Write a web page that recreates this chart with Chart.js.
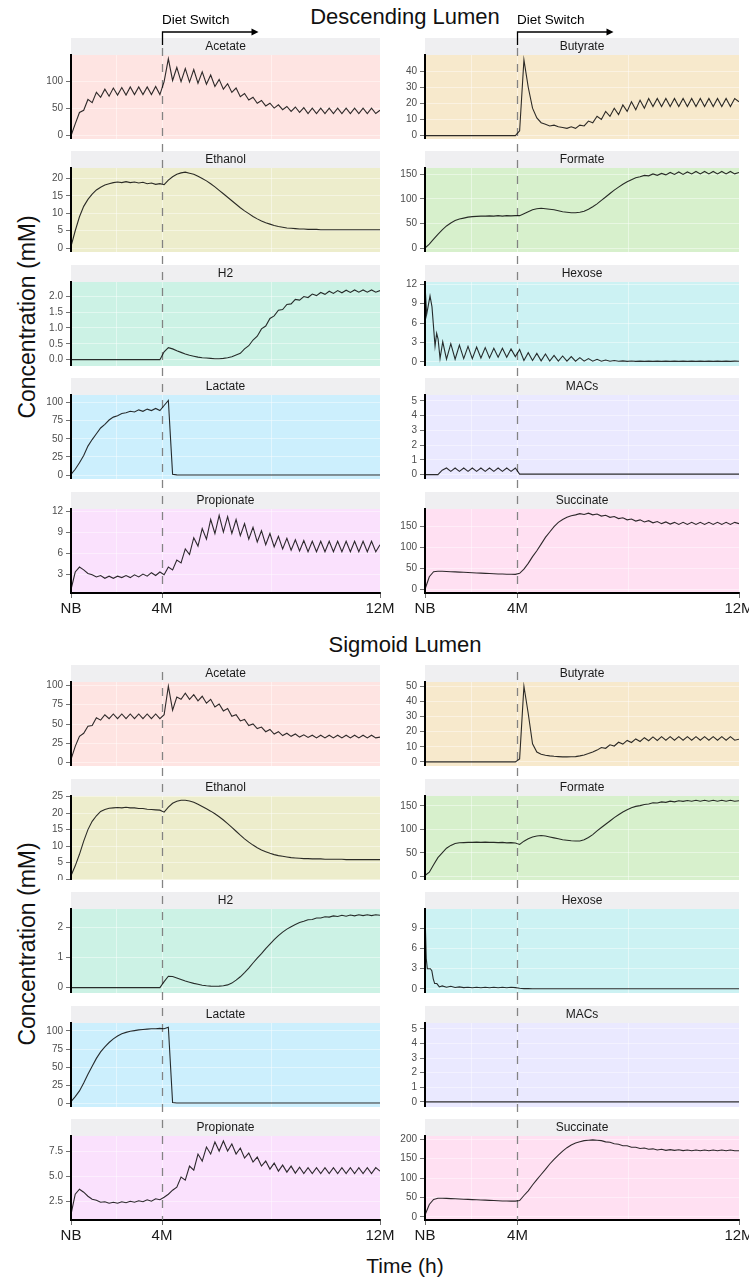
<!DOCTYPE html>
<html>
<head>
<meta charset="utf-8">
<script src="https://cdn.jsdelivr.net/npm/chart.js@4.4.1/dist/chart.umd.min.js"></script>
<style>
    html, body { margin: 0; padding: 0; background: #fff; }
    body { position: relative; width: 749px; height: 1281px; overflow: hidden; font-family: "Liberation Sans", Arial, Helvetica, sans-serif; color: #111; }
    canvas { position: absolute; }
    .title { position: absolute; transform: translateX(-50%); font-size: 22px; line-height: 1; white-space: nowrap; }
    .xlab { position: absolute; transform: translateX(-50%); font-size: 21px; line-height: 1; white-space: nowrap; }
    .ylab { position: absolute; transform: translate(-50%, -50%) rotate(-90deg); font-size: 23px; line-height: 1; white-space: nowrap; }
</style>
</head>
<body>
<div class="title" style="left:405px; top:6px;">Descending Lumen</div>
<div class="title" style="left:405px; top:634px;">Sigmoid Lumen</div>
<div class="ylab" style="left:27px; top:317px;">Concentration (mM)</div>
<div class="ylab" style="left:27px; top:944px;">Concentration (mM)</div>
<div class="xlab" style="left:405px; top:1255px;">Time (h)</div>

<script>
/*** ======== Data ======== ***/
const hours = [
    0, 120, 240, 360, 480, 600, 720, 840, 960, 1080,
    1200, 1320, 1440, 1560, 1680, 1800, 1920, 2040, 2160, 2280,
    2400, 2520, 2640, 2760, 2880, 3000, 3120, 3240, 3360, 3480,
    3600, 3720, 3840, 3960, 4080, 4200, 4320, 4440, 4560, 4680,
    4800, 4920, 5040, 5160, 5280, 5400, 5520, 5640, 5760, 5880,
    6000, 6120, 6240, 6360, 6480, 6600, 6720, 6840, 6960, 7080,
    7200, 7320, 7440, 7560, 7680, 7800, 7920, 8040, 8160, 8280,
    8400, 8520, 8640, 8760
];
const xTickHours = [0, 2580, 8760];
const xTickLabels = ['NB', '4M', '12M'];
const dietSwitchHours = 2580;
const metabolites = ['Acetate', 'Butyrate', 'Ethanol', 'Formate', 'H2', 'Hexose', 'Lactate', 'MACs', 'Propionate', 'Succinate'];
const panelColours = ['#F8766D', '#D89000', '#A3A500', '#39B600', '#00BF7D', '#00BFC4', '#00B0F6', '#9590FF', '#E76BF3', '#FF62BC'];

// Descending lumen
const descAcetate = [
    0, 22, 43, 47, 67, 61, 80, 71, 86, 73,
    88, 75, 89, 75, 90, 76, 90, 76, 90, 76,
    91, 76, 100, 142, 102, 126, 100, 124, 99, 122,
    97, 118, 95, 112, 91, 104, 86, 96, 80, 88,
    72, 78, 66, 71, 60, 65, 55, 60, 51, 57,
    48, 54, 45, 53, 43, 52, 41, 51, 41, 51,
    41, 51, 41, 51, 41, 51, 41, 51, 41, 51,
    41, 51, 41, 47
];
const descButyrate = [
    0, 0, 0, 0, 0, 0, 0, 0, 0, 0,
    0, 0, 0, 0, 0, 0, 0, 0, 0, 0,
    0, 0, 3, 47, 30, 17, 11, 8, 7, 6,
    6.5, 5.5, 5, 4.5, 5.5, 4.5, 6.5, 6, 9, 8,
    12, 10, 15, 12, 17, 13, 19, 15, 21, 16,
    22, 17, 23, 18, 23, 18, 23, 18, 23, 18,
    23, 18, 23, 18, 23, 18, 23, 18, 23, 18,
    23, 18, 23, 21
];
const descEthanol = [
    0.5, 5, 9, 12, 14, 15.5, 16.7, 17.5, 18.1, 18.5,
    18.8, 19, 18.8, 19.1, 18.8, 19, 18.7, 18.9, 18.5, 18.7,
    18.3, 18.5, 18.2, 19.5, 20.5, 21.2, 21.6, 21.8, 21.5, 21.2,
    20.6, 20, 19.3, 18.5, 17.6, 16.6, 15.6, 14.6, 13.6, 12.6,
    11.6, 10.7, 9.9, 9.1, 8.4, 7.8, 7.3, 6.9, 6.5, 6.2,
    6, 5.8, 5.7, 5.6, 5.5, 5.5, 5.4, 5.4, 5.4, 5.3,
    5.3, 5.3, 5.3, 5.3, 5.3, 5.3, 5.3, 5.3, 5.3, 5.3,
    5.3, 5.3, 5.3, 5.3
];
const descFormate = [
    0, 8, 18, 28, 37, 45, 51, 56, 59, 61,
    63, 64, 64.5, 65, 65, 65.5, 65, 66, 65, 66,
    65.5, 66, 66, 70, 74, 78, 80, 81, 80, 79,
    78, 76, 74, 73, 72, 72, 73, 75, 79, 84,
    90, 97, 104, 111, 118, 124, 130, 135, 139, 143,
    145, 148, 147, 151, 148, 152, 149, 154, 150, 155,
    150, 155, 151, 156, 151, 156, 151, 156, 151, 156,
    151, 156, 151, 154
];
const descH2 = [
    0, 0, 0, 0, 0, 0, 0, 0, 0, 0,
    0, 0, 0, 0, 0, 0, 0, 0, 0, 0,
    0, 0, 0.25, 0.38, 0.34, 0.28, 0.23, 0.18, 0.14, 0.11,
    0.08, 0.06, 0.05, 0.04, 0.03, 0.03, 0.04, 0.06, 0.09, 0.15,
    0.2, 0.34, 0.44, 0.62, 0.74, 0.97, 1.06, 1.3, 1.38, 1.56,
    1.58, 1.74, 1.76, 1.9, 1.88, 1.99, 1.96, 2.07, 2.02, 2.12,
    2.06, 2.16, 2.09, 2.18, 2.11, 2.19, 2.12, 2.2, 2.13, 2.2,
    2.13, 2.2, 2.13, 2.18
];
const descHexoseHours = [0, 45, 85, 140, 195, 280, 325, 365, 420, 495].concat(hours.slice(5));
const descHexose = [
    12, 7.3, 8.5, 10.2, 8.5, 2.4, 4.4, 3.5, 0.5, 3.1,
    0.4, 2.8, 0.4, 2.6, 0.5,
    2.4, 0.5, 2.3, 0.6, 2.2, 0.6, 2.1, 0.7, 2.1, 0.7,
    2.0, 0.8, 1.9, 0.2, 1.4, 0.2, 1.3, 0.15, 1.2, 0.12,
    1.0, 0.12, 0.9, 0.1, 0.8, 0.1, 0.65, 0.1, 0.5, 0.1,
    0.38, 0.08, 0.28, 0.08, 0.2, 0.08, 0.14, 0.07, 0.12, 0.07,
    0.11, 0.07, 0.1, 0.07, 0.1, 0.07, 0.1, 0.07, 0.1, 0.07,
    0.1, 0.07, 0.1, 0.07, 0.1, 0.07, 0.1, 0.07, 0.1, 0.07,
    0.1, 0.07, 0.1, 0.08
];
const descLactate = [
    1, 8, 17, 27, 40, 49, 57, 65, 70, 76,
    80, 82, 85, 86, 88, 87, 90, 88, 91, 89,
    92, 89, 96, 103, 1, 0.3, 0.2, 0.2, 0.2, 0.2,
    0.2, 0.2, 0.2, 0.2, 0.2, 0.2, 0.2, 0.2, 0.2, 0.2,
    0.2, 0.2, 0.2, 0.2, 0.2, 0.2, 0.2, 0.2, 0.2, 0.2,
    0.2, 0.2, 0.2, 0.2, 0.2, 0.2, 0.2, 0.2, 0.2, 0.2,
    0.2, 0.2, 0.2, 0.2, 0.2, 0.2, 0.2, 0.2, 0.2, 0.2,
    0.2, 0.2, 0.2, 0.2
];
const descMACs = [
    0, 0, 0, 0, 0.3, 0.45, 0.22, 0.45, 0.22, 0.45,
    0.22, 0.45, 0.22, 0.45, 0.22, 0.45, 0.22, 0.45, 0.22, 0.45,
    0.22, 0.45, 0.03, 0.03, 0.03, 0.03, 0.03, 0.03, 0.03, 0.03,
    0.03, 0.03, 0.03, 0.03, 0.03, 0.03, 0.03, 0.03, 0.03, 0.03,
    0.03, 0.03, 0.03, 0.03, 0.03, 0.03, 0.03, 0.03, 0.03, 0.03,
    0.03, 0.03, 0.03, 0.03, 0.03, 0.03, 0.03, 0.03, 0.03, 0.03,
    0.03, 0.03, 0.03, 0.03, 0.03, 0.03, 0.03, 0.03, 0.03, 0.03,
    0.03, 0.03, 0.03, 0.03
];
const descPropionate = [
    0.8, 3.3, 4.0, 3.6, 3.1, 2.9, 2.6, 2.8, 2.4, 2.7,
    2.4, 2.7, 2.5, 2.8, 2.5, 2.9, 2.6, 3.0, 2.7, 3.2,
    2.8, 3.3, 2.9, 4.0, 3.6, 5.0, 4.6, 6.6, 5.8, 8.2,
    7.0, 9.5, 8.0, 10.8, 8.8, 11.4, 9.0, 11.2, 8.8, 10.8,
    8.5, 10.2, 8.0, 9.7, 7.6, 9.2, 7.2, 8.8, 6.9, 8.4,
    6.6, 8.1, 6.4, 7.9, 6.3, 7.8, 6.2, 7.7, 6.2, 7.7,
    6.2, 7.7, 6.2, 7.7, 6.2, 7.7, 6.2, 7.7, 6.2, 7.7,
    6.2, 7.7, 6.2, 7.2
];
const descSuccinate = [
    0, 30, 42, 43, 43, 42.5, 42, 41.5, 41, 40.5,
    40, 39.5, 39, 38.5, 38, 37.5, 37, 36.5, 36.5, 36,
    36, 35.5, 38, 48, 62, 78, 92, 108, 124, 137,
    150, 160, 167, 172, 176, 178, 181, 179, 182, 178,
    180, 175, 177, 172, 174, 169, 171, 166, 168, 163,
    166, 161, 164, 159, 162, 157, 161, 156, 160, 155,
    160, 155, 160, 155, 160, 155, 160, 155, 160, 155,
    160, 155, 160, 157
];
const descYTicks = [
    ['0', '50', '100'], ['0', '10', '20', '30', '40'], ['0', '5', '10', '15', '20'], ['0', '50', '100', '150'],
    ['0.0', '0.5', '1.0', '1.5', '2.0'], ['0', '3', '6', '9', '12'], ['0', '25', '50', '75', '100'],
    ['0', '1', '2', '3', '4', '5'], ['3', '6', '9', '12'], ['0', '50', '100', '150']
];
const descYRanges = [
    [-6, 149], [-2.1, 50], [-1.1, 23], [-8, 163], [-0.2, 2.45],
    [-0.65, 12.35], [-5.4, 110.5], [-0.3, 5.4], [0.3, 12.3], [-9, 192]
];

// Sigmoid lumen
const sigAcetate = [
    4, 21, 34, 38, 47, 48, 58, 55, 62, 57,
    63, 57, 63, 57, 63, 57, 63, 57, 63, 57,
    63, 57, 62, 99, 68, 85, 82, 90, 82, 88,
    80, 86, 77, 82, 72, 76, 67, 70, 60, 62,
    54, 56, 48, 50, 44, 46, 40, 43, 37, 40,
    35, 38, 34, 37, 33, 36, 32.5, 35.5, 32, 35.5,
    32, 35.5, 32, 35.5, 32, 35.5, 32, 35.5, 32, 35.5,
    32, 35.5, 32, 33
];
const sigButyrate = [
    0, 0, 0, 0, 0, 0, 0, 0, 0, 0,
    0, 0, 0, 0, 0, 0, 0, 0, 0, 0,
    0, 0, 2, 50, 32, 12, 6.5, 5, 4.4, 4,
    3.7, 3.5, 3.3, 3.3, 3.4, 3.5, 4, 4.6, 5.5, 6.5,
    7.8, 9.5, 9, 11.3, 10.5, 13, 11.8, 14.2, 12.8, 15.2,
    13.5, 16, 14, 16.5, 14.2, 16.7, 14.3, 16.7, 14.3, 16.7,
    14.3, 16.7, 14.3, 16.7, 14.3, 16.7, 14.3, 16.7, 14.3, 16.7,
    14.3, 16.7, 14.3, 15
];
const sigEthanol = [
    1, 4, 7.5, 11.5, 15, 17.5, 19.2, 20.5, 21.1, 21.5,
    21.6, 21.7, 21.6, 21.8, 21.6, 21.6, 21.4, 21.4, 21.2, 21.1,
    21.0, 20.9, 20.3, 21.8, 23.0, 23.6, 23.9, 23.9, 23.7, 23.3,
    22.7, 22.0, 21.3, 20.6, 19.8, 18.9, 17.9, 16.8, 15.7, 14.5,
    13.3, 12.2, 11.2, 10.3, 9.5, 8.8, 8.3, 7.8, 7.4, 7.1,
    6.9, 6.7, 6.5, 6.4, 6.3, 6.2, 6.2, 6.1, 6.1, 6.1,
    6.0, 6.0, 6.0, 6.0, 6.0, 5.9, 5.9, 5.9, 5.9, 5.9,
    5.9, 5.9, 5.9, 5.9
];
const sigFormate = [
    2, 9, 25, 40, 50, 60, 66, 70, 71.5, 72,
    72.5, 72.5, 73, 72.5, 73, 72.5, 72.5, 72, 72.5, 71.5,
    72, 71, 68, 75, 80, 84, 86, 87, 86, 84,
    82, 80, 78, 77, 76, 75.5, 75.5, 78, 83, 89,
    97, 104, 111, 118, 125, 131, 137, 142, 146, 149,
    150.5, 153, 154, 156.5, 156, 158.5, 157.5, 160, 158.5, 161,
    159.5, 161.5, 160, 162, 160, 162, 160, 162, 160, 162,
    160, 162, 160, 161
];
const sigH2 = [
    0, 0, 0, 0, 0, 0, 0, 0, 0, 0,
    0, 0, 0, 0, 0, 0, 0, 0, 0, 0,
    0, 0, 0.2, 0.38, 0.37, 0.32, 0.27, 0.22, 0.18, 0.14,
    0.11, 0.08, 0.06, 0.05, 0.045, 0.05, 0.06, 0.09, 0.15, 0.25,
    0.36, 0.5, 0.65, 0.82, 0.98, 1.13, 1.3, 1.45, 1.6, 1.73,
    1.85, 1.95, 2.03, 2.1, 2.17, 2.21, 2.26, 2.27, 2.32, 2.32,
    2.36, 2.35, 2.39, 2.37, 2.41, 2.38, 2.42, 2.39, 2.43, 2.4,
    2.43, 2.4, 2.43, 2.41
];
const sigHexoseHours = [0, 35, 65, 150, 190, 230, 270, 330, 400, 480].concat(hours.slice(5));
const sigHexose = [
    11.3, 4.5, 3.0, 3.0, 2.7, 1.5, 0.8, 0.8, 0.3, 0.45,
    0.25, 0.4, 0.22, 0.3, 0.2,
    0.25, 0.18, 0.25, 0.18, 0.25, 0.18, 0.25, 0.18, 0.25, 0.18,
    0.25, 0.2, 0.1, 0.05, 0.05, 0.04, 0.04, 0.04, 0.04, 0.04,
    0.04, 0.04, 0.04, 0.04, 0.04, 0.04, 0.04, 0.04, 0.04, 0.04,
    0.04, 0.04, 0.04, 0.04, 0.04, 0.04, 0.04, 0.04, 0.04, 0.04,
    0.04, 0.04, 0.04, 0.04, 0.04, 0.04, 0.04, 0.04, 0.04, 0.04,
    0.04, 0.04, 0.04, 0.04, 0.04, 0.04, 0.04, 0.04, 0.04, 0.04,
    0.04, 0.04, 0.04, 0.04
];
const sigLactate = [
    2, 9, 17, 28, 40, 51, 62, 71, 78, 84,
    89, 93, 96, 98, 99.5, 100.5, 101.5, 102, 102.5, 103,
    103, 103.5, 103, 105, 1, 0.2, 0.2, 0.2, 0.2, 0.2,
    0.2, 0.2, 0.2, 0.2, 0.2, 0.2, 0.2, 0.2, 0.2, 0.2,
    0.2, 0.2, 0.2, 0.2, 0.2, 0.2, 0.2, 0.2, 0.2, 0.2,
    0.2, 0.2, 0.2, 0.2, 0.2, 0.2, 0.2, 0.2, 0.2, 0.2,
    0.2, 0.2, 0.2, 0.2, 0.2, 0.2, 0.2, 0.2, 0.2, 0.2,
    0.2, 0.2, 0.2, 0.2
];
const sigMACs = [
    0, 0, 0, 0, 0, 0, 0, 0, 0, 0,
    0, 0, 0, 0, 0, 0, 0, 0, 0, 0,
    0, 0, 0, 0, 0, 0, 0, 0, 0, 0,
    0, 0, 0, 0, 0, 0, 0, 0, 0, 0,
    0, 0, 0, 0, 0, 0, 0, 0, 0, 0,
    0, 0, 0, 0, 0, 0, 0, 0, 0, 0,
    0, 0, 0, 0, 0, 0, 0, 0, 0, 0,
    0, 0, 0, 0
];
const sigPropionate = [
    1.2, 3.2, 3.7, 3.4, 3.0, 2.7, 2.6, 2.4, 2.45, 2.3,
    2.4, 2.3, 2.45, 2.35, 2.5, 2.4, 2.55, 2.45, 2.65, 2.5,
    2.75, 2.65, 2.9, 3.2, 3.6, 3.9, 4.9, 4.6, 6.0, 5.6,
    7.2, 6.5, 7.9, 7.2, 8.4, 7.5, 8.5, 7.5, 8.2, 7.2,
    7.8, 6.8, 7.3, 6.4, 6.9, 6.0, 6.5, 5.7, 6.3, 5.5,
    6.1, 5.4, 6.0, 5.3, 5.9, 5.25, 5.85, 5.25, 5.85, 5.25,
    5.85, 5.25, 5.85, 5.25, 5.85, 5.25, 5.85, 5.25, 5.85, 5.25,
    5.85, 5.25, 5.85, 5.5
];
const sigSuccinate = [
    5, 32, 45, 48, 48, 47.5, 47, 46.5, 46, 45.5,
    45, 44.5, 44, 43.5, 43, 42.5, 42, 41.5, 41, 41,
    40.5, 40.5, 42, 55, 67, 82, 96, 109, 122, 136,
    148, 159, 169, 178, 185, 190, 193, 196, 197, 198,
    197, 196, 193, 192, 188, 187, 183, 183, 179, 179,
    176, 177, 174, 175, 172, 174, 171, 173, 171, 172.5,
    170.5, 172, 170, 172, 170, 172, 170, 172, 170, 172,
    170, 172, 170, 170
];
const sigYTicks = [
    ['0', '25', '50', '75', '100'], ['0', '10', '20', '30', '40', '50'], ['0', '5', '10', '15', '20', '25'],
    ['0', '50', '100', '150'], ['0', '1', '2'], ['0', '3', '6', '9'], ['0', '25', '50', '75', '100'],
    ['0', '1', '2', '3', '4', '5'], ['2.5', '5.0', '7.5'], ['0', '50', '100', '150', '200']
];
const sigYRanges = [
    [-4.5, 104.5], [-2.7, 52.8], [-0.3, 25.2], [-7.5, 171], [-0.18, 2.62],
    [-0.6, 11.85], [-5.3, 111], [-0.35, 5.4], [0.63, 9.0], [-8, 208]
];

/*** ======== Layout ======== ***/
const FONT = '"Liberation Sans", Arial, Helvetica, sans-serif';
const STRIP_H = 17;
const PLOT_H = 84;
const Y_AXIS_W = 45;
const X_AXIS_H = 30;
const ARROW_TOP = 32, ARROW_BOTTOM = 45, ARROW_LEN = 96, ARROW_TEXT_Y = 24;

// minor vertical grid lines sit halfway between the labelled ticks
const xGridHours = [];
xTickHours.forEach((h, i) => {
    xGridHours.push(h);
    if (i < xTickHours.length - 1) xGridHours.push((h + xTickHours[i + 1]) / 2);
});

const sections = [
    {
        canvasTop: 0,
        stripTops: [38, 151, 265, 378, 492],
        xValues: [hours, hours, hours, hours, hours, descHexoseHours, hours, hours, hours, hours],
        series: [descAcetate, descButyrate, descEthanol, descFormate, descH2, descHexose, descLactate, descMACs, descPropionate, descSuccinate],
        yTicks: descYTicks,
        yRanges: descYRanges,
        arrow: true
    },
    {
        canvasTop: 655,
        stripTops: [665, 779, 892, 1006, 1119],
        xValues: [hours, hours, hours, hours, hours, sigHexoseHours, hours, hours, hours, hours],
        series: [sigAcetate, sigButyrate, sigEthanol, sigFormate, sigH2, sigHexose, sigLactate, sigMACs, sigPropionate, sigSuccinate],
        yTicks: sigYTicks,
        yRanges: sigYRanges,
        arrow: false
    }
];

function withAlpha(hex, a) {
    const r = parseInt(hex.slice(1, 3), 16), g = parseInt(hex.slice(3, 5), 16), b = parseInt(hex.slice(5, 7), 16);
    return `rgba(${r},${g},${b},${a})`;
}

/*** ======== Panel decorations: background, strip, diet switch ======== ***/
const panelDecor = {
    id: 'panelDecor',
    beforeDraw(chart, args, opts) {
        const ctx = chart.ctx;
        const a = chart.chartArea;
        ctx.save();
        ctx.fillStyle = opts.fill;
        ctx.fillRect(a.left, a.top, a.right - a.left, a.bottom - a.top);
        ctx.fillStyle = '#efeff1';
        ctx.fillRect(a.left, a.top - STRIP_H, a.right - a.left, STRIP_H);
        ctx.fillStyle = '#1a1a1a';
        ctx.font = '12px ' + FONT;
        ctx.textAlign = 'center';
        ctx.textBaseline = 'middle';
        ctx.fillText(opts.name, (a.left + a.right) / 2, a.top - STRIP_H / 2 + 0.5);
        ctx.restore();
    },
    beforeDatasetsDraw(chart, args, opts) {
        const ctx = chart.ctx;
        const x = Math.round(chart.scales.x.getPixelForValue(dietSwitchHours)) + 0.5;
        ctx.save();
        ctx.strokeStyle = 'rgba(125,125,125,0.95)';
        ctx.lineWidth = 1.3;
        ctx.setLineDash([8, 8]);
        ctx.lineDashOffset = opts.pageTop + opts.dashFrom;
        ctx.beginPath();
        ctx.moveTo(x, opts.dashFrom);
        ctx.lineTo(x, chart.chartArea.bottom);
        ctx.stroke();
        ctx.restore();
    },
    afterDraw(chart, args, opts) {
        if (!opts.arrow) return;
        const ctx = chart.ctx;
        const x = Math.round(chart.scales.x.getPixelForValue(dietSwitchHours)) + 0.5;
        const top = ARROW_TOP - opts.pageTop;
        ctx.save();
        ctx.strokeStyle = '#000';
        ctx.fillStyle = '#000';
        ctx.lineWidth = 1.3;
        ctx.beginPath();
        ctx.moveTo(x, ARROW_BOTTOM - opts.pageTop);
        ctx.lineTo(x, top);
        ctx.lineTo(x + ARROW_LEN - 5, top);
        ctx.stroke();
        ctx.beginPath();
        ctx.moveTo(x + ARROW_LEN, top);
        ctx.lineTo(x + ARROW_LEN - 7, top - 3.5);
        ctx.lineTo(x + ARROW_LEN - 7, top + 3.5);
        ctx.closePath();
        ctx.fill();
        ctx.font = '13.5px ' + FONT;
        ctx.textAlign = 'left';
        ctx.textBaseline = 'alphabetic';
        ctx.fillText('Diet Switch', x - 0.5, ARROW_TEXT_Y - opts.pageTop);
        ctx.restore();
    }
};

function buildPanel(section, k) {
    const col = k % 2;
    const row = Math.floor(k / 2);
    const isBottom = row === section.stripTops.length - 1;
    const plotLeft = col === 0 ? 71 : 425;
    const plotRight = col === 0 ? 380 : 739;
    const stripTop = section.stripTops[row];
    const plotTop = stripTop + STRIP_H;
    const plotBottom = plotTop + PLOT_H;
    const canvasTop = row === 0 ? section.canvasTop : section.stripTops[row - 1] + STRIP_H + PLOT_H;
    const canvasLeft = plotLeft - Y_AXIS_W;
    const canvasWidth = col === 0 ? 380 : 375;
    const canvasHeight = plotBottom - canvasTop + (isBottom ? X_AXIS_H : 0);

    const canvas = document.createElement('canvas');
    canvas.width = canvasWidth;
    canvas.height = canvasHeight;
    canvas.style.left = canvasLeft + 'px';
    canvas.style.top = canvasTop + 'px';
    canvas.style.width = canvasWidth + 'px';
    canvas.style.height = canvasHeight + 'px';
    document.body.appendChild(canvas);

    const xs = section.xValues[k];
    const ys = section.series[k];
    const tickText = section.yTicks[k];
    const range = section.yRanges[k];

    let dashFrom = 0;
    if (row === 0) dashFrom = (section.arrow ? ARROW_BOTTOM : stripTop) - canvasTop;

    new Chart(canvas, {
        type: 'line',
        data: {
            datasets: [{
                data: xs.map((x, i) => ({ x: x, y: ys[i] })),
                borderColor: 'rgba(0,0,0,0.82)',
                borderWidth: 1.1,
                pointRadius: 0,
                tension: 0,
                fill: false
            }]
        },
        options: {
            responsive: false,
            animation: false,
            events: [],
            layout: {
                autoPadding: false,
                padding: { top: plotTop - canvasTop, right: canvasWidth - (plotRight - canvasLeft), bottom: 0, left: 0 }
            },
            plugins: {
                legend: { display: false },
                tooltip: { enabled: false },
                panelDecor: {
                    fill: withAlpha(panelColours[k], 0.2),
                    name: metabolites[k],
                    pageTop: canvasTop,
                    dashFrom: dashFrom,
                    arrow: section.arrow && row === 0
                }
            },
            scales: {
                x: {
                    type: 'linear',
                    min: 0,
                    max: 8760,
                    afterBuildTicks: axis => { axis.ticks = xGridHours.map(v => ({ value: v })); },
                    afterFit: scale => { scale.height = isBottom ? X_AXIS_H : 0; scale.paddingLeft = 0; scale.paddingRight = 0; },
                    ticks: {
                        display: isBottom,
                        autoSkip: false,
                        maxRotation: 0,
                        padding: 2,
                        color: '#1a1a1a',
                        font: { size: 15, family: FONT },
                        callback: v => { const j = xTickHours.indexOf(v); return j < 0 ? '' : xTickLabels[j]; }
                    },
                    grid: {
                        color: 'rgba(255,255,255,0.6)',
                        lineWidth: 0.7,
                        drawTicks: isBottom,
                        tickLength: 5,
                        tickColor: c => (c.tick && xTickHours.includes(c.tick.value)) ? '#333' : 'rgba(0,0,0,0)'
                    },
                    border: { display: isBottom, color: '#000', width: 2 }
                },
                y: {
                    min: range[0],
                    max: range[1],
                    afterBuildTicks: axis => { axis.ticks = tickText.map(s => ({ value: parseFloat(s) })); },
                    afterFit: scale => { scale.width = Y_AXIS_W; scale.paddingTop = 0; scale.paddingBottom = 0; },
                    ticks: {
                        autoSkip: false,
                        padding: 3,
                        color: '#4d4d4d',
                        font: { size: 10, family: FONT },
                        callback: (v, i) => tickText[i]
                    },
                    grid: { color: 'rgba(255,255,255,0.6)', lineWidth: 0.7, tickLength: 5, tickColor: '#333' },
                    border: { display: true, color: '#000', width: 2 }
                }
            }
        },
        plugins: [panelDecor]
    });
}

/*** ======== Build ======== ***/
document.addEventListener('DOMContentLoaded', function () {
    Chart.defaults.font.family = FONT;
    sections.forEach(section => {
        metabolites.forEach((name, k) => buildPanel(section, k));
    });
});
</script>
</body>
</html>
